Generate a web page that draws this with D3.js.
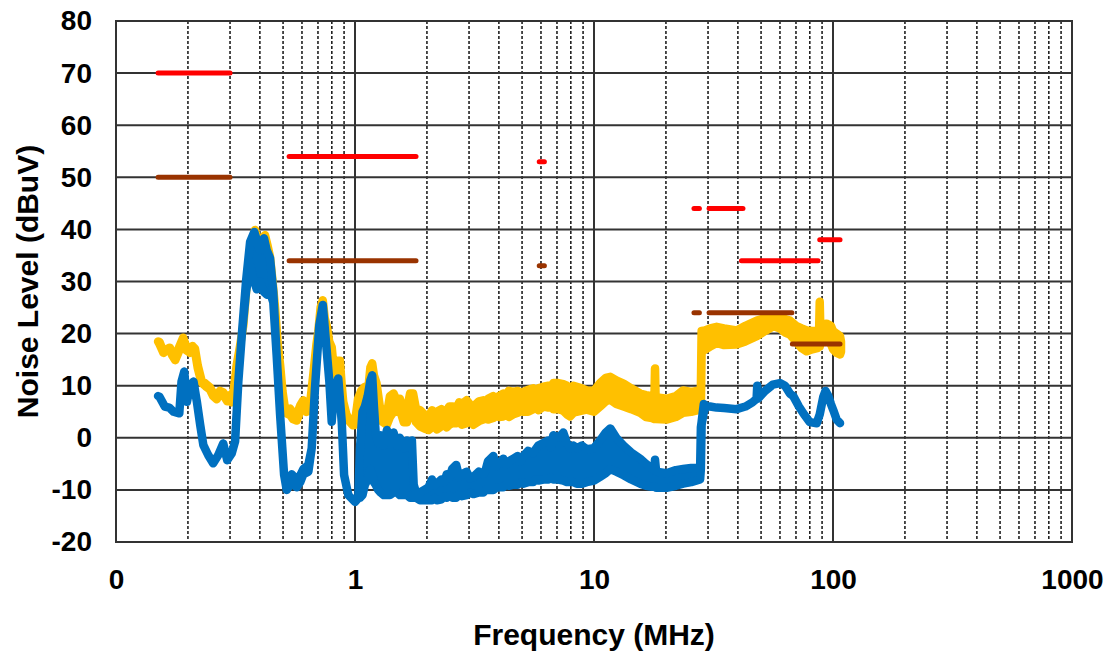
<!DOCTYPE html>
<html>
<head>
<meta charset="utf-8">
<script src="https://cdn.jsdelivr.net/npm/d3@7"></script>
<style>
  html, body { margin: 0; padding: 0; background: #fff; }
  svg text { font-family: "Liberation Sans", Arial, sans-serif; font-weight: bold; fill: #000; }
</style>
</head>
<body>
<svg id="chart" width="1113" height="653"></svg>
<script>
// Conducted emission sweep, envelope per frequency: [MHz, min dBuV, max dBuV]
const peakTrace = [
  [0.150,18.5,18.5],[0.152,18.0,18.4],[0.158,16.3,16.5],[0.163,16.8,17.0],[0.168,16.9,17.3],
  [0.172,15.8,16.2],[0.177,14.9,15.2],[0.183,16.5,17.2],[0.191,18.6,19.2],[0.197,16.8,17.4],
  [0.204,16.3,16.7],[0.209,17.0,17.6],[0.214,16.6,17.1],[0.220,13.3,13.8],[0.228,10.6,11.0],
  [0.237,9.9,10.4],[0.247,9.3,9.7],[0.255,8.0,8.6],[0.264,7.4,7.8],[0.272,8.5,9.0],
  [0.281,8.2,8.7],[0.292,7.0,7.6],[0.300,7.6,8.2],[0.305,6.8,7.1],[0.312,9.3,9.7],
  [0.320,14.0,14.0],[0.330,17.5,17.5],[0.341,21.6,21.6],[0.350,28.0,28.0],[0.358,33.2,33.2],
  [0.370,37.5,37.5],[0.382,39.6,39.9],[0.394,36.5,37.0],[0.408,37.5,38.0],[0.420,38.5,38.9],
  [0.430,36.5,37.0],[0.441,34.3,34.7],[0.452,30.0,30.0],[0.463,24.9,24.9],[0.475,18.0,18.0],
  [0.486,14.0,14.0],[0.497,9.0,9.0],[0.509,5.7,5.7],[0.520,4.6,5.5],[0.535,4.4,5.6],
  [0.550,3.6,4.8],[0.570,3.3,4.4],[0.590,5.0,6.2],[0.608,6.3,7.2],[0.628,5.0,6.0],
  [0.648,5.3,6.4],[0.669,12.1,12.1],[0.690,18.0,18.0],[0.702,20.4,20.4],[0.718,25.0,25.0],
  [0.733,26.2,26.4],[0.747,23.0,23.0],[0.761,21.6,21.6],[0.780,18.5,18.5],[0.799,17.0,17.4],
  [0.812,14.0,14.0],[0.825,12.1,12.1],[0.845,14.3,14.8],[0.865,14.2,14.8],[0.880,10.0,10.0],
  [0.893,6.9,6.9],[0.920,4.5,4.5],[0.953,3.0,3.3],[0.980,2.4,2.8],[1.000,2.5,3.0],
  [1.030,5.5,7.5],[1.060,7.5,9.0],[1.100,7.5,9.8],[1.140,8.0,10.0],[1.160,9.0,13.5],
  [1.180,10.0,14.3],[1.200,9.0,12.0],[1.230,6.0,10.5],[1.270,3.5,6.0],[1.310,3.0,5.0],
  [1.360,2.5,4.5],[1.400,4.0,8.0],[1.450,5.0,8.5],[1.500,5.0,7.0],[1.540,5.5,7.5],
  [1.600,3.0,5.0],[1.650,3.0,5.5],[1.700,5.0,8.5],[1.750,6.0,8.5],[1.800,3.0,5.5],
  [1.870,2.2,5.3],[1.950,1.8,4.5],[2.030,1.5,4.0],[2.100,2.0,5.3],[2.150,2.4,4.6],
  [2.200,1.6,5.0],[2.300,2.2,5.5],[2.360,2.6,4.9],[2.420,2.0,5.2],[2.480,2.5,6.0],
  [2.550,2.8,6.0],[2.670,2.8,5.9],[2.730,3.2,6.8],[2.800,2.5,6.5],[2.930,2.8,7.2],
  [3.030,3.4,6.4],[3.130,2.5,6.0],[3.300,3.2,7.0],[3.440,3.5,7.2],[3.520,3.9,6.8],
  [3.600,3.5,7.5],[3.790,3.8,8.0],[3.900,4.3,7.6],[4.000,4.0,8.0],[4.170,4.1,8.5],
  [4.280,4.6,8.0],[4.400,4.0,9.0],[4.600,4.5,8.8],[4.800,4.8,9.0],[4.930,5.2,8.5],
  [5.060,5.0,8.8],[5.300,5.0,9.2],[5.570,5.5,9.5],[5.700,6.0,9.0],[5.850,5.3,9.5],
  [6.140,6.0,9.8],[6.450,5.8,10.0],[6.600,6.4,9.6],[6.760,5.5,10.5],[7.100,5.5,10.5],
  [7.440,5.2,10.3],[7.700,4.5,10.0],[7.940,4.1,9.5],[8.200,4.8,10.0],[8.470,5.0,9.8],
  [8.900,5.2,9.5],[9.320,5.4,9.1],[10.00,5.0,9.0],[10.60,6.0,10.5],[11.20,7.0,11.5],
  [11.70,7.3,11.7],[12.40,6.5,11.0],[13.30,6.0,10.4],[14.30,5.5,9.5],[15.60,4.8,8.5],
  [16.50,4.0,8.2],[17.50,3.8,8.0],[17.90,3.6,7.8],[18.00,3.6,13.3],[18.10,3.6,7.8],
  [20.10,3.5,7.5],[22.00,4.0,8.0],[23.60,4.8,9.1],[25.50,5.0,8.8],[27.80,5.4,9.1],
  [28.00,5.4,9.5],[28.20,17.0,20.5],[29.10,16.9,20.6],[30.60,17.5,21.0],[32.60,18.2,21.3],
  [35.00,17.8,21.0],[39.50,17.9,20.6],[43.00,18.5,21.5],[48.00,19.5,22.5],[52.00,20.5,23.0],
  [56.30,21.4,23.5],[60.00,21.0,23.3],[63.00,20.2,22.8],[66.10,19.8,22.5],[70.00,18.5,21.5],
  [74.00,17.2,21.0],[77.60,16.6,20.6],[82.00,17.0,20.5],[86.00,17.2,20.5],[87.50,17.5,21.0],
  [88.00,17.5,26.1],[88.50,18.0,21.0],[91.00,18.5,21.8],[94.00,18.8,21.9],[98.00,18.0,21.5],
  [100.0,17.0,20.5],[103.6,16.3,20.0],[107.0,16.0,19.5],[108.0,16.5,18.5]
];

const avgTrace = [
  [0.150,8.0,8.0],[0.152,7.9,7.9],[0.160,6.0,6.0],[0.167,5.8,5.8],[0.174,5.0,5.0],
  [0.184,4.7,4.7],[0.188,10.8,10.8],[0.193,12.5,12.7],[0.198,6.9,6.9],[0.203,9.3,9.5],
  [0.211,10.6,10.8],[0.218,6.9,6.9],[0.225,2.5,2.5],[0.232,-1.4,-1.4],[0.243,-3.3,-3.3],
  [0.255,-4.9,-4.9],[0.268,-3.3,-3.3],[0.281,-1.1,-1.1],[0.292,-4.3,-4.3],[0.305,-3.0,-3.0],
  [0.315,-0.7,-0.7],[0.325,10.8,10.8],[0.336,19.7,19.7],[0.350,28.0,30.0],[0.364,33.0,37.6],
  [0.379,30.0,39.5],[0.388,28.5,38.0],[0.400,30.0,36.0],[0.416,28.0,38.3],[0.427,27.5,36.0],
  [0.441,28.0,34.5],[0.455,26.0,28.0],[0.470,15.9,15.9],[0.486,4.4,4.4],[0.505,-7.1,-7.1],
  [0.518,-10.0,-9.0],[0.544,-8.5,-7.0],[0.570,-9.5,-8.0],[0.590,-8.5,-7.2],[0.608,-7.0,-6.0],
  [0.638,-6.5,-5.2],[0.659,-2.0,-2.0],[0.680,9.5,9.5],[0.709,21.6,21.6],[0.733,25.3,25.5],
  [0.756,18.4,18.4],[0.781,10.8,10.8],[0.799,3.1,3.1],[0.819,9.5,9.5],[0.851,11.4,11.4],
  [0.880,3.1,3.1],[0.900,-7.1,-7.1],[0.938,-11.0,-11.0],[1.000,-12.3,-12.3],[1.032,-11.6,-11.6],
  [1.049,-11.5,-2.0],[1.075,-11.0,5.0],[1.100,-9.0,6.0],[1.130,-8.0,8.0],[1.160,-6.0,11.0],
  [1.180,-7.0,12.0],[1.200,-8.5,6.0],[1.220,-9.0,1.0],[1.250,-10.0,-1.0],[1.280,-10.5,0.5],
  [1.320,-11.0,-1.5],[1.360,-11.0,1.5],[1.400,-11.0,-1.0],[1.450,-10.5,1.0],[1.500,-10.5,-1.5],
  [1.540,-11.0,0.0],[1.600,-11.0,-2.0],[1.650,-11.0,-0.5],[1.700,-11.5,-2.0],[1.730,-11.5,-0.5],
  [1.760,-11.5,-9.0],[1.800,-11.5,-10.5],[1.870,-12.0,-10.5],[1.950,-12.0,-10.0],[2.030,-12.0,-9.5],
  [2.100,-12.0,-8.0],[2.150,-11.6,-9.2],[2.200,-12.0,-8.8],[2.300,-11.8,-8.0],[2.360,-11.3,-8.6],
  [2.420,-11.5,-7.0],[2.480,-11.0,-7.8],[2.550,-11.5,-6.0],[2.650,-11.5,-5.2],[2.730,-10.9,-7.6],
  [2.800,-11.2,-7.0],[2.930,-11.0,-6.5],[3.030,-10.5,-7.8],[3.130,-10.8,-7.5],[3.300,-10.5,-6.5],
  [3.440,-10.5,-7.0],[3.520,-10.0,-6.2],[3.600,-10.0,-4.5],[3.790,-10.0,-3.5],[3.900,-9.6,-5.5],
  [4.000,-9.5,-5.0],[4.170,-9.5,-4.0],[4.280,-9.0,-5.2],[4.400,-9.2,-4.5],[4.600,-9.0,-4.0],
  [4.800,-9.0,-3.5],[4.930,-8.6,-4.6],[5.060,-8.8,-3.5],[5.300,-8.5,-2.5],[5.570,-8.5,-3.0],
  [5.700,-8.0,-2.2],[5.850,-8.2,-1.5],[6.140,-8.0,-1.0],[6.450,-8.0,-0.5],[6.600,-7.6,-1.8],
  [6.760,-8.0,0.5],[7.100,-8.0,0.0],[7.440,-8.2,1.0],[7.700,-8.5,-1.0],[7.940,-8.5,-2.0],
  [8.200,-8.5,-1.5],[8.470,-8.8,-2.0],[8.900,-8.8,-1.5],[9.320,-8.5,-2.2],[10.00,-8.2,-2.0],
  [10.60,-7.5,-0.5],[11.20,-6.8,1.0],[11.70,-6.0,1.8],[12.40,-6.5,0.0],[13.30,-7.2,-1.5],
  [14.30,-8.0,-2.8],[15.60,-8.8,-4.0],[16.50,-9.2,-5.0],[17.50,-9.4,-6.0],[17.90,-9.4,-6.2],
  [18.00,-9.4,-4.2],[18.20,-9.6,-6.5],[20.10,-9.6,-6.8],[22.00,-9.2,-6.2],[23.60,-8.8,-6.0],
  [25.50,-8.5,-5.8],[27.80,-8.0,-5.8],[28.00,-6.0,2.0],[28.20,2.5,3.0],[28.80,5.0,6.5],
  [29.50,6.0,6.0],[30.60,6.0,6.0],[32.60,5.8,5.8],[35.00,5.7,5.7],[39.50,5.5,5.5],
  [43.00,6.0,6.0],[46.00,6.8,6.8],[47.90,7.5,7.5],[48.20,7.5,10.0],[48.50,7.5,7.5],
  [52.00,9.0,9.0],[56.00,10.2,10.2],[60.00,10.5,10.5],[63.00,10.0,10.0],[66.00,8.5,8.5],
  [68.20,8.0,8.0],[72.00,6.0,6.0],[75.10,4.7,4.7],[80.00,3.0,3.0],[85.50,2.8,2.8],
  [88.00,4.5,4.5],[91.10,7.9,7.9],[93.00,9.0,9.0],[95.60,8.0,8.0],[98.00,6.5,6.5],
  [100.3,5.3,5.3],[103.6,3.5,3.5],[107.0,2.8,2.8]
];

// Limit lines: [start MHz, end MHz, level dBuV]
const peakLimits = [
  [0.15, 0.30, 70], [0.53, 1.8, 54], [5.9, 6.2, 53], [26.2, 27.6, 44],
  [30.3, 42.0, 44], [41.4, 86.6, 34], [88.0, 107.0, 38]
];
const avgLimits = [
  [0.15, 0.30, 50], [0.53, 1.8, 34], [5.9, 6.2, 33], [26.2, 27.6, 24],
  [30.3, 67.3, 24], [67.6, 107.0, 18]
];

const xTickValues = [0.1, 1, 10, 100, 1000];
const xTickLabels = ["0", "1", "10", "100", "1000"];
const yTickValues = [-20, -10, 0, 10, 20, 30, 40, 50, 60, 70, 80];
const xTitle = "Frequency (MHz)";
const yTitle = "Noise Level (dBuV)";

const colors = { peak: "#FFC000", avg: "#0070C0", peakLimit: "#FF0000", avgLimit: "#993300", grid: "#333333" };

const margin = { left: 116, right: 41, top: 21, bottom: 111 };
const W = 1113, H = 653;
const svg = d3.select("#chart");

const x = d3.scaleLog().domain([0.1, 1000]).range([margin.left, W - margin.right]);
const y = d3.scaleLinear().domain([-20, 80]).range([H - margin.bottom, margin.top]);

const plotTop = y(80), plotBottom = y(-20), plotLeft = x(0.1), plotRight = x(1000);

// minor frequency grid (2..9 in every decade), dashed
const minorTicks = [];
for (const dec of [0.1, 1, 10, 100]) for (let k = 2; k <= 9; k++) minorTicks.push(dec * k);

const grid = svg.append("g");
grid.selectAll("line.minor").data(minorTicks).join("line")
  .attr("x1", d => x(d)).attr("x2", d => x(d))
  .attr("y1", plotTop).attr("y2", plotBottom)
  .attr("stroke", "#000").attr("stroke-width", 1.4).attr("stroke-dasharray", "3,2");

grid.selectAll("line.major").data(xTickValues).join("line")
  .attr("x1", d => x(d)).attr("x2", d => x(d))
  .attr("y1", plotTop).attr("y2", plotBottom)
  .attr("stroke", colors.grid).attr("stroke-width", 2);

grid.selectAll("line.h").data(yTickValues).join("line")
  .attr("x1", plotLeft).attr("x2", plotRight)
  .attr("y1", d => y(d)).attr("y2", d => y(d))
  .attr("stroke", colors.grid).attr("stroke-width", 2);

// measured traces drawn as min/max envelopes
const band = d3.area()
  .x(d => x(d[0]))
  .y0(d => y(d[1]))
  .y1(d => y(d[2]));

function drawTrace(data, color) {
  svg.append("path")
    .datum(data)
    .attr("d", band)
    .attr("fill", color)
    .attr("stroke", color)
    .attr("stroke-width", 8.5)
    .attr("stroke-linejoin", "round")
    .attr("stroke-linecap", "round");
}
drawTrace(peakTrace, colors.peak);
drawTrace(avgTrace, colors.avg);

// limit lines
function drawLimits(data, color) {
  svg.append("g").selectAll("line").data(data).join("line")
    .attr("x1", d => x(d[0])).attr("x2", d => x(d[1]))
    .attr("y1", d => y(d[2])).attr("y2", d => y(d[2]))
    .attr("stroke", color).attr("stroke-width", 5).attr("stroke-linecap", "round");
}
drawLimits(peakLimits, colors.peakLimit);
drawLimits(avgLimits, colors.avgLimit);

// axis labels
const labelStyle = sel => sel.style("font-size", "28px")
  .style("font-family", "'Liberation Sans', Arial, sans-serif")
  .style("font-weight", "bold").attr("fill", "#000");

const xAxis = d3.axisBottom(x).tickValues(xTickValues)
  .tickFormat((d, i) => xTickLabels[i]).tickSize(0).tickPadding(27);
const gx = svg.append("g").attr("transform", `translate(0,${plotBottom})`).call(xAxis);
gx.select(".domain").remove();
gx.selectAll("text").call(labelStyle);

const yAxis = d3.axisLeft(y).tickValues(yTickValues).tickFormat(d => String(d)).tickSize(0).tickPadding(24);
const gy = svg.append("g").attr("transform", `translate(${plotLeft},0)`).call(yAxis);
gy.select(".domain").remove();
gy.selectAll("text").call(labelStyle);

svg.append("text")
  .attr("x", (plotLeft + plotRight) / 2).attr("y", 645)
  .attr("text-anchor", "middle").style("font-size", "30px")
  .text(xTitle);

svg.append("text")
  .attr("transform", `translate(38,${(plotTop + plotBottom) / 2}) rotate(-90)`)
  .attr("text-anchor", "middle").style("font-size", "30px")
  .text(yTitle);

// plot frame
svg.append("rect")
  .attr("x", plotLeft).attr("y", plotTop)
  .attr("width", plotRight - plotLeft).attr("height", plotBottom - plotTop)
  .attr("fill", "none").attr("stroke", colors.grid).attr("stroke-width", 2);
</script>
</body>
</html>
